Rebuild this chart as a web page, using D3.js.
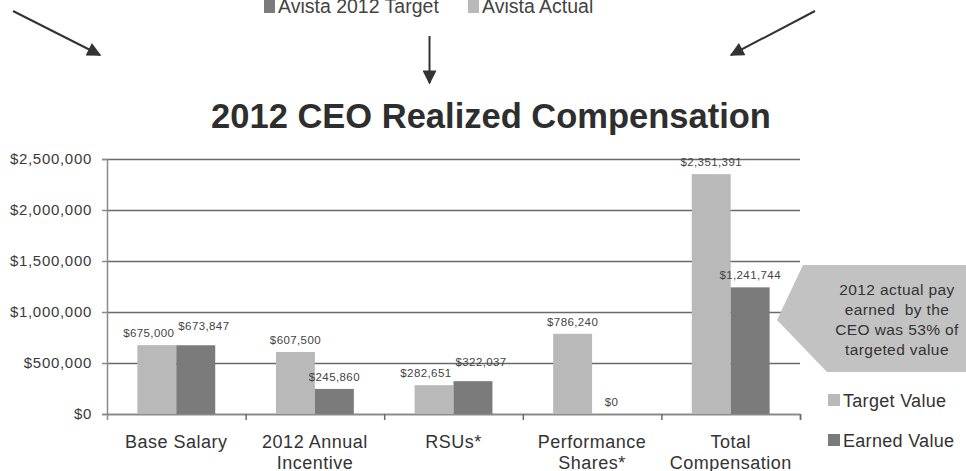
<!DOCTYPE html>
<html>
<head>
<meta charset="utf-8">
<script src="https://cdn.jsdelivr.net/npm/d3@7"></script>
<style>
  body { margin: 0; background: #fff; }
  text { font-family: "Liberation Sans", Arial, sans-serif; white-space: pre; }
</style>
</head>
<body>
<svg id="chart" width="966" height="471"></svg>
<script>
// chart values
const categories = [["Base Salary"], ["2012 Annual", "Incentive"], ["RSUs*"], ["Performance", "Shares*"], ["Total", "Compensation"]];
const targetValues = [675000, 607500, 282651, 786240, 2351391];
const earnedValues = [673847, 245860, 322037, 0, 1241744];
const yTicks = [0, 500000, 1000000, 1500000, 2000000, 2500000];
const seriesNames = ["Target Value", "Earned Value"];
const topLegend = ["Avista 2012 Target", "Avista Actual"];
const calloutLines = ["2012 actual pay", "earned  by the", "CEO was 53% of", "targeted value"];
const chartTitle = "2012 CEO Realized Compensation";

const colTarget = "#b9b9b9", colEarned = "#7b7b7b";

const svg = d3.select("#chart");
const margin = { top: 159, left: 107 };
const width = 693, height = 255;

const g = svg.append("g").attr("transform", `translate(${margin.left},${margin.top})`);

const x = d3.scaleBand().domain(d3.range(categories.length)).range([0, width]).padding(0);
const xSub = d3.scaleBand().domain(["t", "e"]).range([0, x.bandwidth()]).paddingInner(0).paddingOuter(0.78);
const y = d3.scaleLinear().domain([0, 2500000]).range([height, 0]);

// gridlines
g.append("g")
  .call(d3.axisLeft(y).tickValues(yTicks).tickSize(-width).tickFormat(""))
  .call(s => s.select(".domain").remove())
  .selectAll("line").attr("stroke", "#6a6a6a").attr("stroke-width", 1.4);

// y axis labels + ticks
g.append("g")
  .call(d3.axisLeft(y).tickValues(yTicks).tickSize(5).tickPadding(10).tickFormat(d => "$" + d3.format(",")(d)))
  .call(s => s.select(".domain").attr("stroke", "#8a8a8a").attr("stroke-width", 1.5))
  .call(s => s.selectAll("line").attr("stroke", "#8a8a8a").attr("stroke-width", 1.5))
  .call(s => s.selectAll("text").attr("font-size", 15).attr("letter-spacing", 0.7).attr("fill", "#3a3a3a"));

// x axis with ticks at category boundaries
const xb = d3.scaleLinear().domain([0, categories.length]).range([0, width]);
g.append("g").attr("transform", `translate(0,${height})`)
  .call(d3.axisBottom(xb).tickValues(d3.range(1, categories.length + 1)).tickSize(6).tickFormat(""))
  .call(s => s.select(".domain").attr("stroke", "#8a8a8a").attr("stroke-width", 1.5))
  .call(s => s.selectAll("line").attr("stroke", "#6a6a6a").attr("stroke-width", 1.5));

// category labels
categories.forEach((lines, i) => {
  const cx = x(i) + x.bandwidth() / 2;
  const t = g.append("text")
    .attr("x", cx)
    .attr("y", height + 34)
    .attr("text-anchor", "middle")
    .attr("font-size", 18).attr("letter-spacing", 0.5).attr("fill", "#333");
  lines.forEach((l, j) => t.append("tspan").attr("x", cx).attr("dy", j ? 21 : 0).text(l));
});

// bars
const fmt = d => "$" + d3.format(",")(d);
const labelSets = [];
[["t", targetValues, colTarget], ["e", earnedValues, colEarned]].forEach(([k, vals, col]) => {
  const grp = g.append("g");
  grp.selectAll("rect").data(vals).enter().append("rect")
    .attr("x", (d, i) => x(i) + xSub(k))
    .attr("y", d => y(d))
    .attr("width", xSub.bandwidth())
    .attr("height", d => height - y(d))
    .attr("fill", col);
  labelSets.push(grp.selectAll("text").data(vals).enter().append("text")
    .attr("x", (d, i) => x(i) + xSub(k) + xSub.bandwidth() / 2)
    .attr("y", d => y(d) - 8)
    .attr("text-anchor", "middle")
    .attr("font-size", 11.5).attr("letter-spacing", 0.4).attr("fill", "#444")
    .text(fmt).nodes());
});

// push apart labels that collide (like the data labels in the original)
labelSets[0].forEach((tn, i) => {
  const en = labelSets[1][i];
  const a = tn.getBBox(), b = en.getBBox();
  const overlap = a.x + a.width + 4 - b.x;
  const vOverlap = Math.abs(a.y - b.y) < a.height;
  if (overlap > 0 && vOverlap) {
    tn.setAttribute("x", +tn.getAttribute("x") - overlap / 2);
    en.setAttribute("x", +en.getAttribute("x") + overlap / 2);
    en.setAttribute("y", +en.getAttribute("y") - 7);
  }
});

// title
svg.append("text").attr("x", 491).attr("y", 128).attr("text-anchor", "middle")
  .attr("font-size", 34.5).attr("font-weight", "bold").attr("fill", "#2e2e2e").text(chartTitle);

// callout
svg.append("path").attr("d", "M803,265 L966,265 L966,372 L827,372 L777,320 Z").attr("fill", "#c2c2c2");
calloutLines.forEach((l, i) => {
  svg.append("text").attr("x", 897).attr("y", 295 + i * 20).attr("text-anchor", "middle")
    .attr("font-size", 15.5).attr("letter-spacing", 0.4).attr("fill", "#333").text(l);
});

// right legend
seriesNames.forEach((n, i) => {
  const yy = 400 + i * 40;
  svg.append("rect").attr("x", 828).attr("y", yy - 6).attr("width", 12).attr("height", 12)
    .attr("fill", i ? colEarned : colTarget);
  svg.append("text").attr("x", 843).attr("y", yy + 7).attr("font-size", 18).attr("letter-spacing", 0.3)
    .attr("fill", "#333").text(n);
});

// top legend (cut off at top)
topLegend.forEach((n, i) => {
  const xx = i ? 468 : 264;
  svg.append("rect").attr("x", xx).attr("y", 0).attr("width", 11).attr("height", 13)
    .attr("fill", i ? colTarget : colEarned);
  svg.append("text").attr("x", xx + 14).attr("y", 13).attr("font-size", 19.5)
    .attr("fill", "#444").text(n);
});

// arrows
const defs = svg.append("defs");
defs.append("marker").attr("id", "ah").attr("viewBox", "0 0 10 10").attr("refX", 9).attr("refY", 5)
  .attr("markerWidth", 8).attr("markerHeight", 7).attr("orient", "auto")
  .append("path").attr("d", "M0,0 L10,5 L0,10 Z").attr("fill", "#333");
[[13, 11, 100, 55], [429.5, 36, 429.5, 83], [815, 11, 731, 55]].forEach(a => {
  svg.append("line").attr("x1", a[0]).attr("y1", a[1]).attr("x2", a[2]).attr("y2", a[3])
    .attr("stroke", "#333").attr("stroke-width", 2).attr("marker-end", "url(#ah)");
});
</script>
</body>
</html>
